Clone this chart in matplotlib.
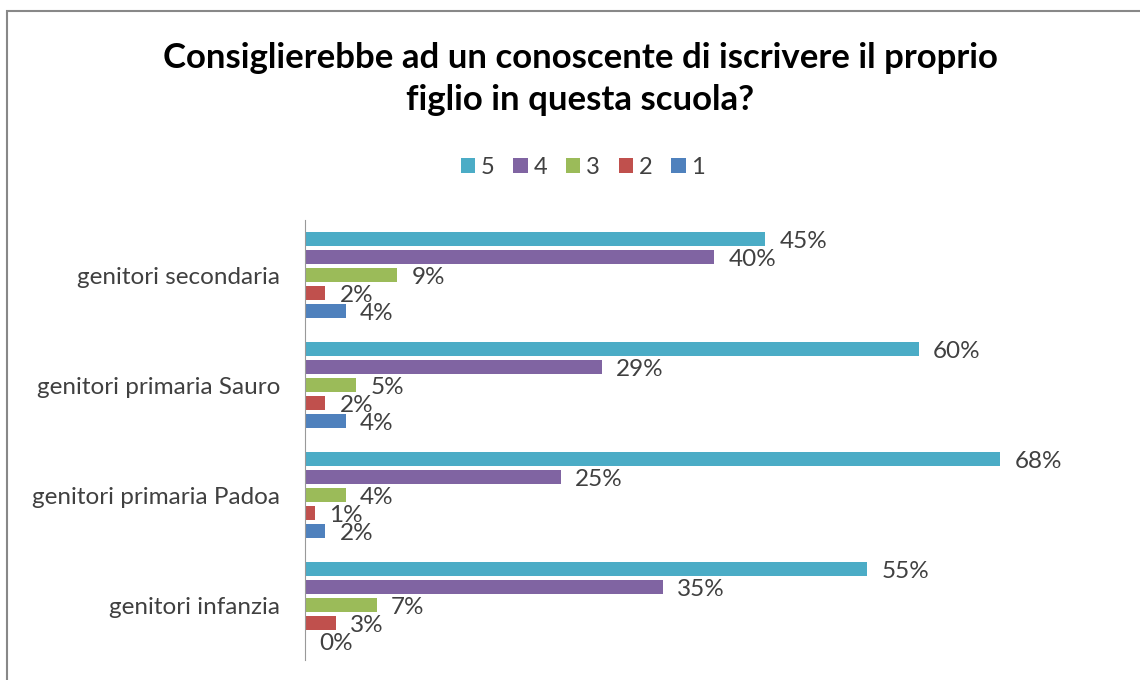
from matplotlib import pyplot as plt
from matplotlib.patches import Rectangle
import numpy as np

plt.rcParams['font.family'] = ['Lato', 'DejaVu Sans']

# dati
categorie = ['genitori infanzia', 'genitori primaria Padoa',
             'genitori primaria Sauro', 'genitori secondaria']
serie = ['5', '4', '3', '2', '1']
valori = {
    '5': [55, 68, 60, 45],
    '4': [35, 25, 29, 40],
    '3': [7, 4, 5, 9],
    '2': [3, 1, 2, 2],
    '1': [0, 2, 4, 4],
}
colori = ['#4BACC6', '#8064A2', '#9BBB59', '#C0504D', '#4F81BD']

fig = plt.figure(figsize=(11.4, 6.8), dpi=100)
ax = fig.add_axes([305 / 1140, 20 / 680, 818 / 1140, 440 / 680])

y = np.arange(len(categorie))
slot = 18 / 110
altezza = 14 / 110
for i, s in enumerate(serie):
    pos = y + (2 - i) * slot
    bars = ax.barh(pos, valori[s], height=altezza, color=colori[i], label=s)
    for bar, v in zip(bars, valori[s]):
        ax.text(bar.get_width() + 1.4, bar.get_y() + bar.get_height() / 2 - 0.02,
                f'{v}%', ha='left', va='center', fontsize=17.5, color='#404040')

ax.set_xlim(0, 80)
ax.set_ylim(-0.5, 3.5)
ax.set_yticks(y)
ax.set_yticklabels(categorie, fontsize=17.5, color='#404040')
ax.tick_params(axis='y', length=0, pad=18)
ax.set_xticks([])
for side in ['top', 'right', 'bottom']:
    ax.spines[side].set_visible(False)
ax.spines['left'].set_color('#999999')

fig.text(580 / 1140, 1 - 79 / 680,
         'Consiglierebbe ad un conoscente di iscrivere il proprio\nfiglio in questa scuola?',
         ha='center', va='center', fontsize=25, fontweight='bold',
         linespacing=1.4, color='black')

handles, labels = ax.get_legend_handles_labels()
fig.legend(handles, labels, loc='center', bbox_to_anchor=(583 / 1140, 1 - 167 / 680),
           ncol=5, frameon=False, fontsize=17, handlelength=0.6, handleheight=0.6,
           handletextpad=0.25, columnspacing=0.8, labelcolor='#404040')

# cornice del grafico
fig.add_artist(Rectangle((7 / 1140, -0.1), 1.2, 1 - 11 / 680 + 0.1,
                         transform=fig.transFigure, fill=False,
                         edgecolor='#888888', linewidth=1.5))

plt.savefig('out.png', dpi=100)
plt.close()
